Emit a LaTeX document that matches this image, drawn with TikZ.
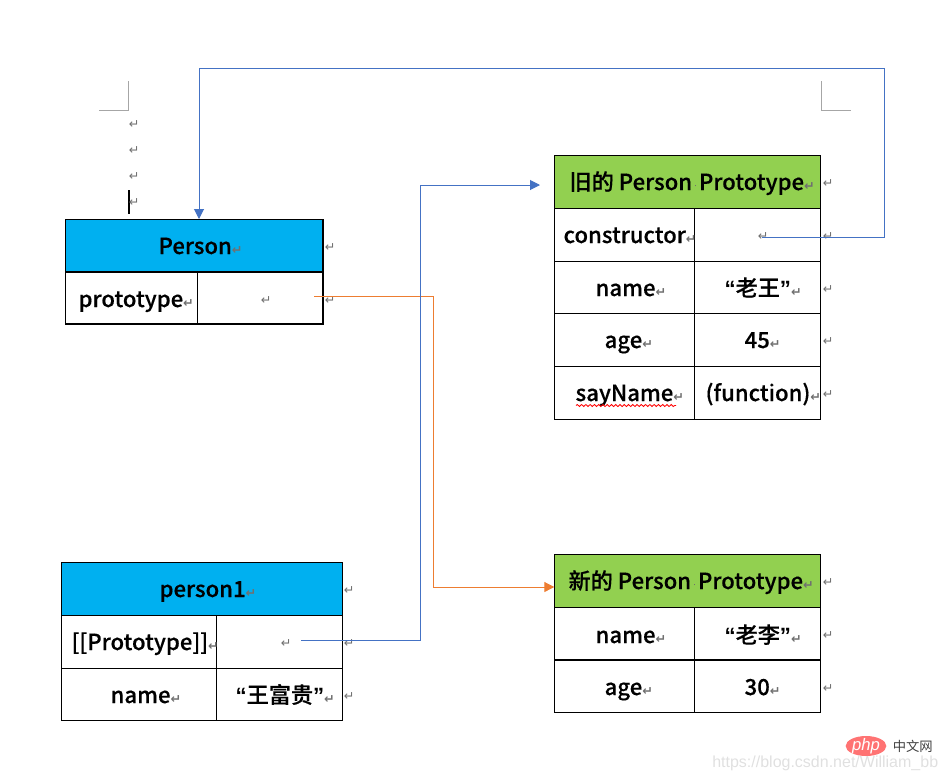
\documentclass[tikz,border=0pt]{standalone}
\usepackage{fontspec}
\usetikzlibrary{arrows.meta,decorations.pathmorphing,shapes.geometric}
\setmainfont{Noto Sans CJK SC}[BoldFont={Noto Sans CJK SC Medium},BoldFeatures={FakeBold=0.35}]
\newfontfamily\retfont{DejaVu Sans}
\newfontfamily\wmfont{Liberation Sans}
\definecolor{hdblue}{HTML}{00B0F0}
\definecolor{hdgreen}{HTML}{92D050}
\definecolor{lnblue}{HTML}{4472C4}
\definecolor{lnorange}{HTML}{ED7D31}
\definecolor{markgray}{HTML}{707070}
\newcommand{\retm}{{\retfont\fontsize{9.5}{9.5}\selectfont\textcolor{markgray}{↵}}}
\newcommand{\spdot}{\makebox[5.2pt][c]{\textcolor{markgray}{\raisebox{0.3ex}{\rule{1.1pt}{1.1pt}}}}}
\newcommand{\lqt}{{\wmfont\bfseries “}}
\newcommand{\rqt}{{\wmfont\bfseries ”}}
\newcommand{\tcell}[6]{%
  \pgfmathsetmacro\cw{(#4-#2)*0.75}%
  \pgfmathsetmacro\ch{(#5-#3)*0.75}%
  \node[cellbox,fill=#6,minimum width=\cw pt,minimum height=\ch pt] (#1) at ({(#2+#4)/2},{(#3+#5)/2}) {};}
\tikzset{
  x=0.75pt,y=-0.75pt,
  cellbox/.style={draw=black,line width=0.95pt,inner sep=0pt,outer sep=0pt},
  lbl/.style={anchor=base west,inner sep=0pt,xshift=-0.5pt,font=\fontsize{16.6}{18}\selectfont\bfseries},
  retnode/.style={inner sep=0pt,xshift=0.8pt},
  link/.style={line width=0.75pt},
  tip/.style={-{Triangle[length=7.5pt,width=7.5pt]}},
  cropmark/.style={draw=black!35,line width=0.75pt},
}
\begin{document}
\begin{tikzpicture}
\useasboundingbox (0,0) rectangle (945,779);
% crop marks and cursor
\draw[cropmark] (99,110) -- (128,110) -- (128,81);
\draw[cropmark] (821,81) -- (821,110) -- (851,110);
\draw[black,line width=0.8pt] (129,190) -- (129,214);
% Person
\tcell{pH}{65.3}{219.3}{323}{272}{hdblue}
\tcell{pA}{65.3}{272}{197.3}{324}{white}
\tcell{pB}{197.3}{272}{323}{324}{white}
\node[lbl] (tpH) at (159,254) {Person\retm};
\node[lbl] (tpA) at (79,307) {prototype\retm};
% old prototype
\tcell{oH}{554.3}{155.3}{820.7}{208.7}{hdgreen}
\tcell{oA1}{554.3}{208.7}{694.3}{261.3}{white}
\tcell{oB1}{694.3}{208.7}{820.7}{261.3}{white}
\tcell{oA2}{554.3}{261.3}{694.3}{313.3}{white}
\tcell{oB2}{694.3}{261.3}{820.7}{313.3}{white}
\tcell{oA3}{554.3}{313.3}{694.3}{366.3}{white}
\tcell{oB3}{694.3}{313.3}{820.7}{366.3}{white}
\tcell{oA4}{554.3}{366.3}{694.3}{419.3}{white}
\tcell{oB4}{694.3}{366.3}{820.7}{419.3}{white}
\node[lbl] (toH) at (570,190) {旧的 Person\spdot Prototype\retm};
\node[lbl] (toA1) at (564,243) {constructor\retm};
\node[lbl] (toA2) at (596,296) {name\retm};
\node[lbl] (toB2) at (725,296) {\lqt 老王\rqt\retm};
\node[lbl] (toA3) at (605,348) {age\retm};
\node[lbl] (toB3) at (745,348) {45\retm};
\node[lbl] (toA4) at (576,401) {sayName\retm};
\node[lbl] (toB4) at (706,401) {(function)\retm};
\draw[red,line width=0.65pt,decorate,decoration={snake,amplitude=0.75pt,segment length=3.2pt}] (576,405.5) -- (676,405.5);
% new prototype
\tcell{nH}{554.3}{554.5}{820.7}{607.5}{hdgreen}
\tcell{nA1}{554.3}{607.5}{694.3}{660}{white}
\tcell{nB1}{694.3}{607.5}{820.7}{660}{white}
\tcell{nA2}{554.3}{660}{694.3}{712.5}{white}
\tcell{nB2}{694.3}{660}{820.7}{712.5}{white}
\node[lbl] (tnH) at (569,589) {新的 Person\spdot Prototype\retm};
\node[lbl] (tnA1) at (596,643) {name\retm};
\node[lbl] (tnB1) at (725,643) {\lqt 老李\rqt\retm};
\node[lbl] (tnA2) at (605,695) {age\retm};
\node[lbl] (tnB2) at (745,695) {30\retm};
% person1
\tcell{qH}{61.3}{562.7}{342.7}{615.3}{hdblue}
\tcell{qA1}{61.3}{615.3}{216.3}{668.3}{white}
\tcell{qB1}{216.3}{615.3}{342.7}{668.3}{white}
\tcell{qA2}{61.3}{668.3}{216.3}{720.3}{white}
\tcell{qB2}{216.3}{668.3}{342.7}{720.3}{white}
\node[lbl] (tqH) at (160,597) {person1\retm};
\node[lbl] (tqA1) at (72,650) {[[Prototype]]\retm};
\node[lbl] (tqA2) at (111,703) {name\retm};
\node[lbl] (tqB2) at (236,703) {\lqt 王富贵\rqt\retm};
% free-standing paragraph marks
\foreach \i/\px/\py in {1/133/125,2/133/151,3/133/177,4/133/203,
  5/329/248,6/329/301,7/265/301,
  8/827/184,9/827/237,10/827/290,11/827/342,12/827/395,13/762/237,
  14/827/583,15/827/636,16/827/689,
  17/348/591,18/348/644,19/348/697,20/285/644}
  \node[retnode] (ret\i) at (\px,\py) {\retm};
% connectors
\coordinate (ctorStart) at (762,237);
\coordinate (ctorC1) at (884,237);
\coordinate (ctorC2) at (884,68);
\coordinate (ctorC3) at (199,68);
\coordinate (personTop) at (199,219);
\draw[link,lnblue,tip] (ctorStart) -- (ctorC1) -- (ctorC2) -- (ctorC3) -- (personTop);
\coordinate (protoStart) at (314,296);
\coordinate (protoC1) at (433,296);
\coordinate (protoC2) at (433,587);
\draw[link,lnorange,tip] (protoStart) -- (protoC1) -- (protoC2) -- (nH.west |- protoC2);
\coordinate (instStart) at (301,640);
\coordinate (instC1) at (420,640);
\coordinate (instC2) at (420,185);
\coordinate (instEnd) at (540,185);
\draw[link,lnblue,tip] (instStart) -- (instC1) -- (instC2) -- (instEnd);
% watermark
\node[ellipse,fill=red!55!white,minimum width=30.5pt,minimum height=15pt,inner sep=0pt] (wmOval) at (866,746) {};
\node[inner sep=0pt,text=white] (wmPhp) at (866,746) {\wmfont\itshape\fontsize{12.5}{13}\selectfont php};
\node[inner sep=0pt,text=black!75,anchor=west] (wmCn) at (892.5,746) {\fontsize{10}{11}\selectfont 中文网};
\node[inner sep=0pt,anchor=base west,text=black!12] (wmUrl) at (712,767) {\wmfont\fontsize{12}{13}\selectfont https://blog.csdn.net/William\_bb};
\end{tikzpicture}
\end{document}
